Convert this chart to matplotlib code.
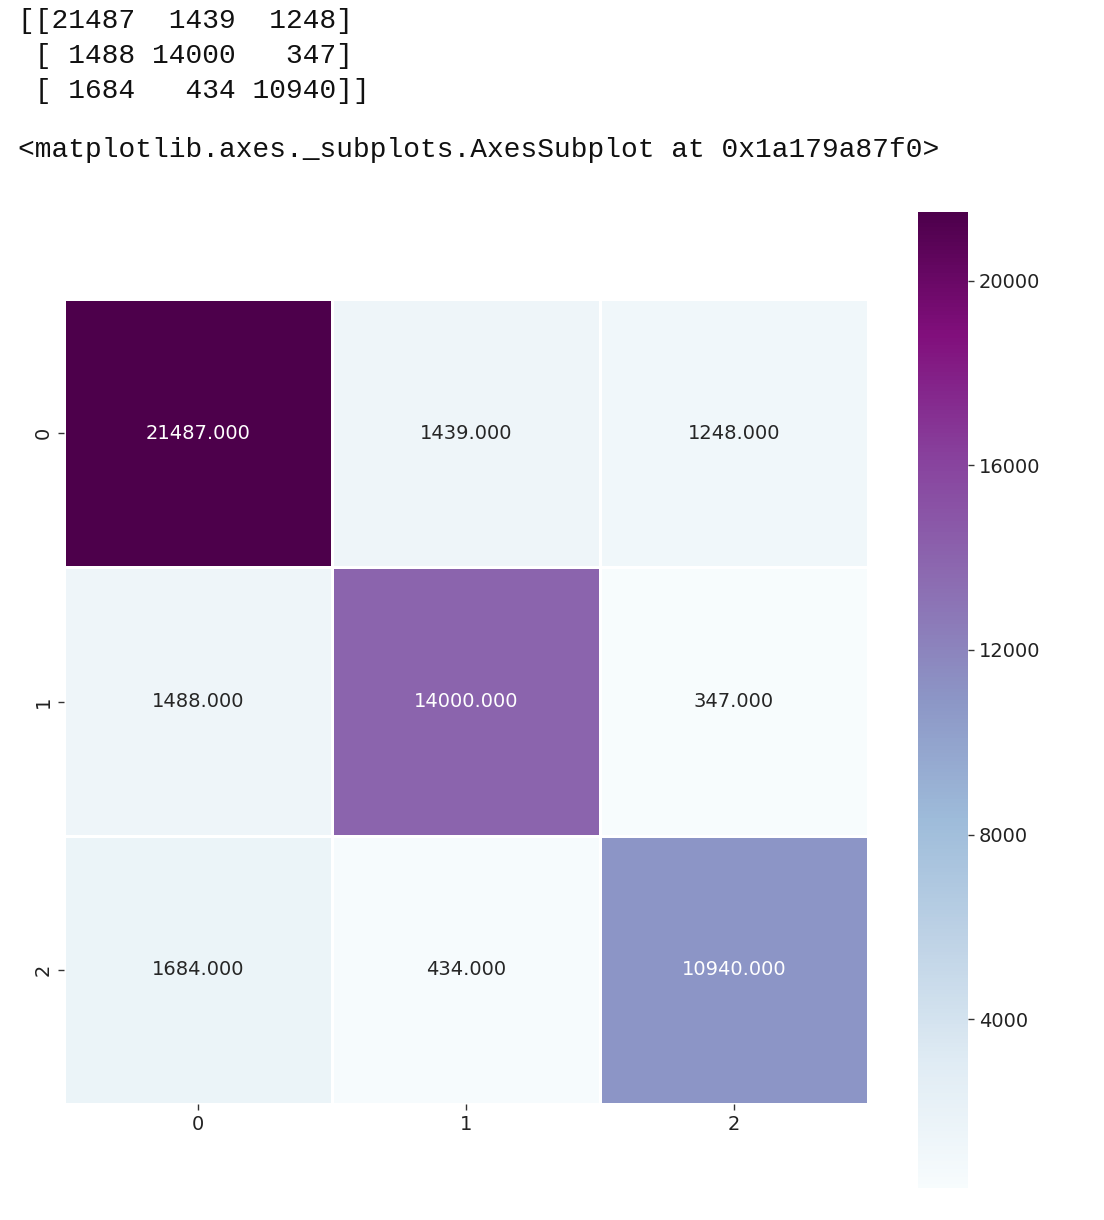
import numpy as np
import matplotlib
matplotlib.use("Agg")
import matplotlib.pyplot as plt
import seaborn as sns

# confusion matrix values
labels = ["0", "1", "2"]
row0 = [21487, 1439, 1248]
row1 = [1488, 14000, 347]
row2 = [1684, 434, 10940]
cbar_ticks = [4000, 8000, 12000, 16000, 20000]

cm = np.array([row0, row1, row2])

W, H = 1104, 1220
fig = plt.figure(figsize=(W / 100, H / 100), dpi=100)

# notebook-style printed output above the plot
out_lines = [str(cm), "<matplotlib.axes._subplots.AxesSubplot at 0x1a179a87f0>"]
mono = dict(family="Liberation Mono", fontsize=20.1, color="#111111")
for i, line in enumerate(out_lines[0].split("\n")):
    fig.text(18 / W, 1 - (21 + 35 * i) / H, line, va="center", ha="left", **mono)
fig.text(18 / W, 1 - 150 / H, out_lines[1], va="center", ha="left", **mono)

def box(x0, y0, x1, y1):
    return [x0 / W, 1 - y1 / H, (x1 - x0) / W, (y1 - y0) / H]

ax = fig.add_axes(box(64, 299, 868, 1104))
cax = fig.add_axes(box(918, 212, 968, 1188))

sns.heatmap(cm, annot=True, fmt=".3f", cmap="BuPu", linewidths=2.0,
            linecolor="white", ax=ax, cbar_ax=cax,
            xticklabels=labels, yticklabels=labels,
            annot_kws={"fontsize": 14})

ax.tick_params(axis="both", labelsize=14, length=4.5, width=1.0,
               colors="#333333", labelcolor="#222222")
ax.set_yticklabels(labels, rotation=90, va="center")
ax.set_xticklabels(labels, rotation=0)

cax.set_yticks(cbar_ticks)
cax.set_yticklabels([str(t) for t in cbar_ticks])
cax.tick_params(labelsize=14, length=4.5, width=1.0, colors="#333333",
                labelcolor="#222222")

fig.savefig("out.png", dpi=100)
